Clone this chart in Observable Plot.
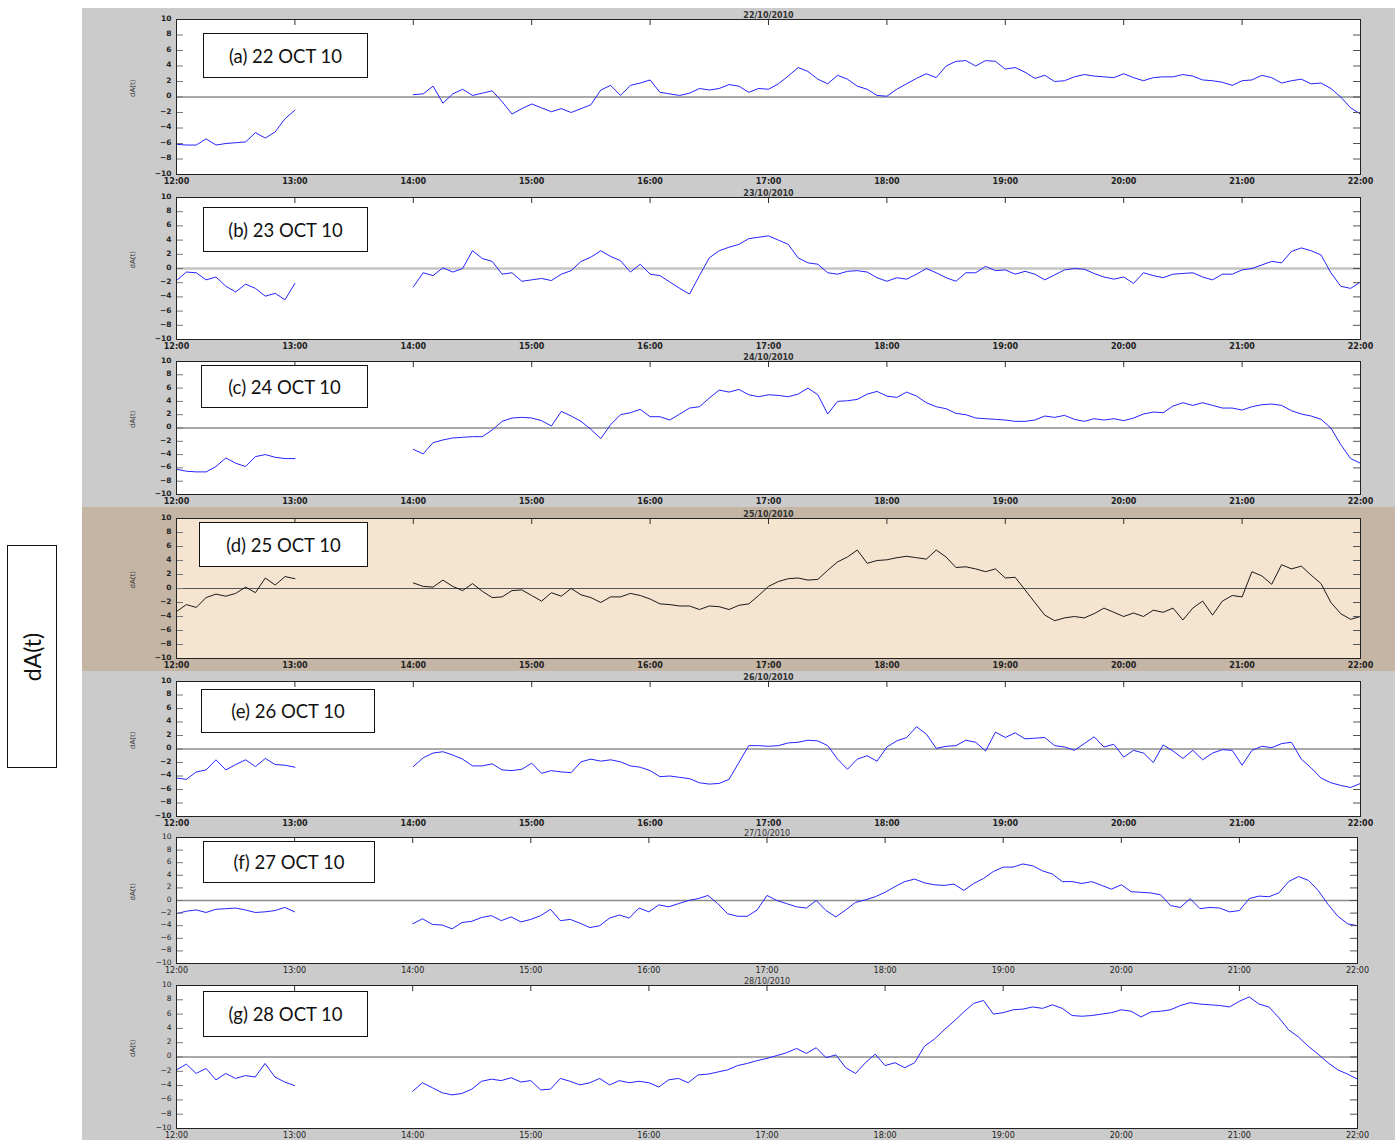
<!DOCTYPE html>
<html><head><meta charset="utf-8">
<script src="https://cdn.jsdelivr.net/npm/d3@7"></script>
<script src="https://cdn.jsdelivr.net/npm/@observablehq/plot@0.6"></script>
<style>
body{margin:0;background:#fff;width:1395px;height:1140px;position:relative;overflow:hidden;font-family:"DejaVu Sans",sans-serif}
#bg{position:absolute;left:82px;top:8px;width:1313px;height:1132px;background:#cbcbcb}
#band{position:absolute;left:82px;top:507px;width:1313px;height:164px;background:#c4b5a5}
.panel{position:absolute;left:82px}
.box{position:absolute;background:#fff;border:1.5px solid #111;box-sizing:border-box;font-family:Lato,"Open Sans",sans-serif;font-size:18.5px;color:#111;display:flex;align-items:center;justify-content:center}
#ylab{position:absolute;left:7px;top:545px;width:50px;height:223px;border:1.5px solid #111;box-sizing:border-box;background:#fff}
#ylab span{position:absolute;left:50%;top:50%;transform:translate(-50%,-50%) rotate(-90deg);font-family:Lato,"Open Sans",sans-serif;font-size:23px;white-space:nowrap;color:#111}
</style>
</head><body>
<div id="bg"></div>
<div id="band"></div>
<div id="ylab"><span>dA(t)</span></div>
<script>
// ---- data (dA(t) values, 5-minute samples) ----
const hourTicks = [720,780,840,900,960,1020,1080,1140,1200,1260,1320];
const hourLabels = ["12:00","13:00","14:00","15:00","16:00","17:00","18:00","19:00","20:00","21:00","22:00"];
const yTicks = [-10,-8,-6,-4,-2,0,2,4,6,8,10];
const dates = ["22/10/2010","23/10/2010","24/10/2010","25/10/2010","26/10/2010","27/10/2010","28/10/2010"];
const boxLabels = ["(a) 22 OCT 10","(b) 23 OCT 10","(c) 24 OCT 10","(d) 25 OCT 10","(e) 26 OCT 10","(f) 27 OCT 10","(g) 28 OCT 10"];

// 12:00-13:00 segments
const a1 = [-6.1,-6.2,-6.2,-5.4,-6.2,-6.0,-5.9,-5.8,-4.6,-5.3,-4.5,-2.8,-1.7];
const b1 = [-1.7,-0.5,-0.6,-1.6,-1.2,-2.5,-3.3,-2.2,-2.8,-3.9,-3.5,-4.4,-2.1];
const c1 = [-6.2,-6.5,-6.6,-6.6,-5.8,-4.5,-5.3,-5.8,-4.3,-4.0,-4.4,-4.6,-4.6];
const d1 = [-3.3,-2.3,-2.7,-1.3,-0.8,-1.1,-0.7,0.2,-0.6,1.5,0.5,1.7,1.4];
const e1 = [-4.3,-4.5,-3.4,-3.1,-1.6,-3.1,-2.3,-1.6,-2.6,-1.4,-2.3,-2.4,-2.7];
const f1 = [-2.1,-1.7,-1.5,-1.9,-1.4,-1.3,-1.2,-1.5,-1.9,-1.8,-1.6,-1.1,-1.8];
const g1 = [-1.8,-1.0,-2.3,-1.6,-3.2,-2.3,-3.0,-2.6,-2.8,-0.9,-2.8,-3.5,-4.0];

// 14:00-22:00 segments
const a2 = [0.3,0.4,1.4,-0.8,0.4,1.0,0.2,0.5,0.8,-0.6,-2.2,-1.5,
  -0.9,-1.4,-1.9,-1.5,-2.0,-1.5,-1.0,0.9,1.5,0.2,1.5,1.8,
  2.2,0.6,0.4,0.2,0.5,1.1,0.9,1.1,1.6,1.4,0.6,1.1,
  1.0,1.7,2.7,3.8,3.3,2.3,1.7,2.8,2.3,1.4,1.0,0.2,
  0.1,1.0,1.7,2.4,3.0,2.5,4.0,4.6,4.7,4.0,4.7,4.6,
  3.6,3.8,3.2,2.4,2.8,2.0,2.1,2.6,2.9,2.7,2.6,2.5,
  3.0,2.5,2.1,2.5,2.6,2.6,2.9,2.7,2.2,2.1,1.9,1.5,
  2.1,2.2,2.8,2.5,1.8,2.1,2.3,1.7,1.8,1.1,0.0,-1.4,
  -2.2];
const b2 = [-2.6,-0.6,-1.0,0.1,-0.5,0.0,2.5,1.4,1.0,-0.8,-0.6,-1.8,
  -1.6,-1.4,-1.7,-0.8,-0.3,1.0,1.6,2.5,1.7,1.1,-0.5,0.6,
  -0.8,-1.0,-1.9,-2.8,-3.6,-1.0,1.5,2.5,3.0,3.4,4.2,4.4,
  4.6,4.0,3.4,1.5,0.8,0.6,-0.6,-0.8,-0.4,-0.3,-0.5,-1.3,
  -1.8,-1.3,-1.5,-0.8,0.0,-0.6,-1.3,-1.8,-0.6,-0.6,0.3,-0.3,
  -0.2,-0.8,-0.4,-0.8,-1.6,-0.9,-0.2,0.0,-0.1,-0.7,-1.2,-1.5,
  -1.2,-2.1,-0.6,-1.0,-1.3,-0.8,-0.7,-0.6,-1.2,-1.6,-0.8,-0.8,
  -0.2,0.0,0.5,1.0,0.8,2.4,2.9,2.5,1.9,-0.6,-2.5,-2.8,
  -1.9];
const c2 = [-3.2,-3.9,-2.2,-1.8,-1.5,-1.4,-1.3,-1.3,-0.3,1.0,1.5,1.6,
  1.5,1.1,0.3,2.5,1.8,1.0,-0.2,-1.6,0.5,2.0,2.3,2.8,
  1.7,1.7,1.2,2.1,3.0,3.2,4.5,5.7,5.4,5.8,5.0,4.7,
  5.0,4.9,4.7,5.1,6.0,5.0,2.1,4.0,4.1,4.3,5.1,5.5,
  4.8,4.6,5.4,4.8,3.8,3.2,2.9,2.2,2.0,1.5,1.4,1.3,
  1.2,1.0,1.0,1.2,1.8,1.6,1.9,1.3,1.0,1.4,1.2,1.4,
  1.1,1.5,2.1,2.4,2.3,3.3,3.8,3.4,3.8,3.4,3.0,3.0,
  2.7,3.2,3.5,3.6,3.4,2.6,2.1,1.8,1.3,0.0,-2.5,-4.6,
  -5.3];
const d2 = [0.8,0.3,0.2,1.2,0.3,-0.3,0.7,-0.4,-1.3,-1.2,-0.3,-0.2,
  -1.0,-1.8,-0.6,-1.1,0.0,-0.9,-1.3,-2.0,-1.2,-1.2,-0.7,-1.0,
  -1.5,-2.2,-2.3,-2.5,-2.5,-3.0,-2.5,-2.6,-3.0,-2.4,-2.2,-1.0,
  0.3,1.0,1.4,1.5,1.2,1.3,2.6,3.8,4.5,5.5,3.6,4.0,
  4.1,4.4,4.6,4.4,4.2,5.5,4.5,3.0,3.1,2.8,2.4,2.8,
  1.5,1.6,-0.2,-2.0,-3.8,-4.6,-4.2,-4.0,-4.2,-3.6,-2.8,-3.4,
  -4.0,-3.5,-4.0,-3.1,-3.4,-2.8,-4.5,-2.8,-1.8,-3.8,-1.8,-1.0,
  -1.2,2.4,1.8,0.6,3.4,2.8,3.2,1.9,0.7,-2.0,-3.6,-4.4,
  -4.0];
const e2 = [-2.6,-1.3,-0.6,-0.4,-0.9,-1.5,-2.5,-2.5,-2.2,-3.1,-3.2,-3.0,
  -2.1,-3.6,-3.2,-3.4,-3.5,-1.9,-1.5,-1.8,-1.6,-1.9,-2.5,-2.7,
  -3.2,-4.1,-4.0,-4.2,-4.4,-5.0,-5.2,-5.1,-4.5,-2.0,0.5,0.5,
  0.4,0.5,0.9,1.0,1.3,1.2,0.5,-1.5,-3.0,-1.5,-1.0,-1.8,
  0.3,1.2,1.7,3.3,2.2,0.1,0.4,0.5,1.3,1.0,-0.3,2.5,
  1.7,2.4,1.5,1.6,1.7,0.5,0.3,-0.2,0.8,1.8,0.3,0.7,
  -1.2,-0.2,-0.6,-2.0,0.6,-0.3,-1.4,-0.2,-1.6,-0.6,-0.1,-0.2,
  -2.4,-0.2,0.4,0.2,0.8,1.0,-1.5,-2.8,-4.3,-5.0,-5.4,-5.7,
  -5.1];
const f2 = [-3.7,-2.9,-3.8,-3.9,-4.5,-3.5,-3.3,-2.7,-2.4,-3.2,-2.6,-3.4,
  -3.0,-2.4,-1.4,-3.2,-3.0,-3.6,-4.3,-4.0,-2.8,-2.3,-2.8,-1.2,
  -1.8,-0.7,-1.0,-0.5,0.0,0.3,0.8,-0.5,-2.1,-2.5,-2.5,-1.5,
  0.8,0.0,-0.5,-1.0,-1.2,0.0,-1.6,-2.6,-1.5,-0.3,0.1,0.6,
  1.3,2.2,3.0,3.4,2.8,2.5,2.4,2.6,1.6,2.7,3.5,4.6,
  5.3,5.3,5.8,5.5,4.7,4.2,3.0,3.0,2.7,3.0,2.4,1.8,
  2.5,1.4,1.3,1.2,0.9,-0.8,-1.1,0.3,-1.3,-1.1,-1.2,-1.8,
  -1.6,0.3,0.7,0.6,1.2,3.0,3.8,3.2,1.6,-0.6,-2.5,-3.7,
  -4.0];
const g2 = [-4.8,-3.6,-4.3,-5.0,-5.3,-5.1,-4.5,-3.4,-3.1,-3.3,-2.9,-3.5,
  -3.3,-4.6,-4.5,-3.0,-3.4,-3.9,-3.6,-3.0,-3.9,-3.3,-3.6,-3.4,
  -3.6,-4.2,-3.2,-3.0,-3.6,-2.5,-2.4,-2.1,-1.8,-1.2,-0.9,-0.5,
  -0.2,0.2,0.6,1.2,0.5,1.3,-0.1,0.3,-1.5,-2.3,-0.8,0.4,
  -1.2,-0.8,-1.5,-0.8,1.5,2.5,3.8,5.0,6.3,7.5,7.9,6.0,
  6.2,6.6,6.7,7.0,6.8,7.3,6.8,5.8,5.7,5.8,6.0,6.2,
  6.6,6.4,5.6,6.3,6.4,6.6,7.2,7.6,7.4,7.3,7.2,7.0,
  7.8,8.4,7.4,7.0,5.5,3.8,2.8,1.5,0.4,-0.8,-1.8,-2.4,
  -3.1];

const seg1 = [a1,b1,c1,d1,e1,f1,g1];
const seg2 = [a2,b2,c2,d2,e2,f2,g2];

// ---- layout / styles ----
const layout = [
  {top:19, bottom:174, right:1360, box:[203,33,165,45]},
  {top:197, bottom:339, right:1360, box:[203,207,165,45]},
  {top:361, bottom:494, right:1360, box:[201,365,167,43]},
  {top:518, bottom:658, right:1360, box:[199,522,169,45]},
  {top:681, bottom:816, right:1360, box:[201,689,174,44]},
  {top:837, bottom:963, right:1357, box:[203,841,172,42]},
  {top:985, bottom:1128, right:1357, box:[203,991,165,46]}
];
const styles = [
  {stroke:"#2424ff", fill:"#fff", zero:"#555", zw:1, bold:true},
  {stroke:"#2424ff", fill:"#fff", zero:"#c4c4c4", zw:2.5, bold:true},
  {stroke:"#2424ff", fill:"#fff", zero:"#555", zw:1, bold:true},
  {stroke:"#1a1a1a", fill:"#f5e4d0", zero:"#555", zw:1, bold:true},
  {stroke:"#2424ff", fill:"#fff", zero:"#555", zw:1, bold:true},
  {stroke:"#2424ff", fill:"#fff", zero:"#8a8a8a", zw:1.5, bold:false},
  {stroke:"#2424ff", fill:"#fff", zero:"#555", zw:1, bold:false}
];

const W = 1313, ML = 94, MT = 14, MB = 14;
layout.forEach((L, i) => {
  const S = styles[i];
  const rows = [
    ...seg1[i].map((v, k) => ({t: 720 + 5 * k, v, seg: 1})),
    ...seg2[i].map((v, k) => ({t: 840 + 5 * k, v, seg: 2}))
  ];
  const fh = L.bottom - L.top;
  const MR = 1395 - L.right;
  const fw = W - ML - MR;
  const fw8 = S.bold ? "bold" : "normal";
  const chart = Plot.plot({
    width: W, height: fh + MT + MB,
    marginLeft: ML, marginRight: MR, marginTop: MT, marginBottom: MB,
    x: {domain: [720, 1320]},
    y: {domain: [-10, 10]},
    style: {background: "none", fontFamily: "'DejaVu Sans', sans-serif", overflow: "visible"},
    marks: [
      Plot.frame({fill: S.fill}),
      Plot.ruleY([0], {stroke: S.zero, strokeWidth: S.zw}),
      Plot.line(rows, {x: "t", y: "v", z: "seg", stroke: S.stroke, strokeWidth: 1}),
      Plot.tickY(yTicks, {y: d => d, insetRight: fw - 7, stroke: "#777"}),
      Plot.tickY(yTicks, {y: d => d, insetLeft: fw - 7, stroke: "#555"}),
      Plot.tickX(hourTicks, {x: d => d, insetBottom: fh - 6, stroke: "#333"}),
      Plot.frame({stroke: "#222", strokeWidth: 1}),
      Plot.axisX({ticks: hourTicks, tickFormat: d => hourLabels[hourTicks.indexOf(d)], tickSize: 0, tickPadding: 4, fontSize: 8, fontWeight: fw8, fill: "#222", label: null}),
      Plot.axisY({ticks: yTicks, tickSize: 0, tickPadding: 5, dy: -1, fontSize: 7.5, fontWeight: fw8, fill: "#222", label: null}),
      Plot.text([dates[i]], {frameAnchor: "top", dy: -7, text: d => d, fontSize: 8, fontWeight: fw8, fill: "#333"}),
      Plot.text(["dA(t)"], {frameAnchor: "left", dx: -44, rotate: -90, text: d => d, fontSize: 7, fill: "#333"})
    ]
  });
  const div = document.createElement("div");
  div.className = "panel";
  div.style.top = (L.top - MT) + "px";
  div.appendChild(chart);
  document.body.appendChild(div);
  const b = document.createElement("div");
  b.className = "box";
  b.style.left = L.box[0] + "px"; b.style.top = L.box[1] + "px";
  b.style.width = L.box[2] + "px"; b.style.height = L.box[3] + "px";
  b.textContent = boxLabels[i];
  document.body.appendChild(b);
});
</script>
</body></html>
